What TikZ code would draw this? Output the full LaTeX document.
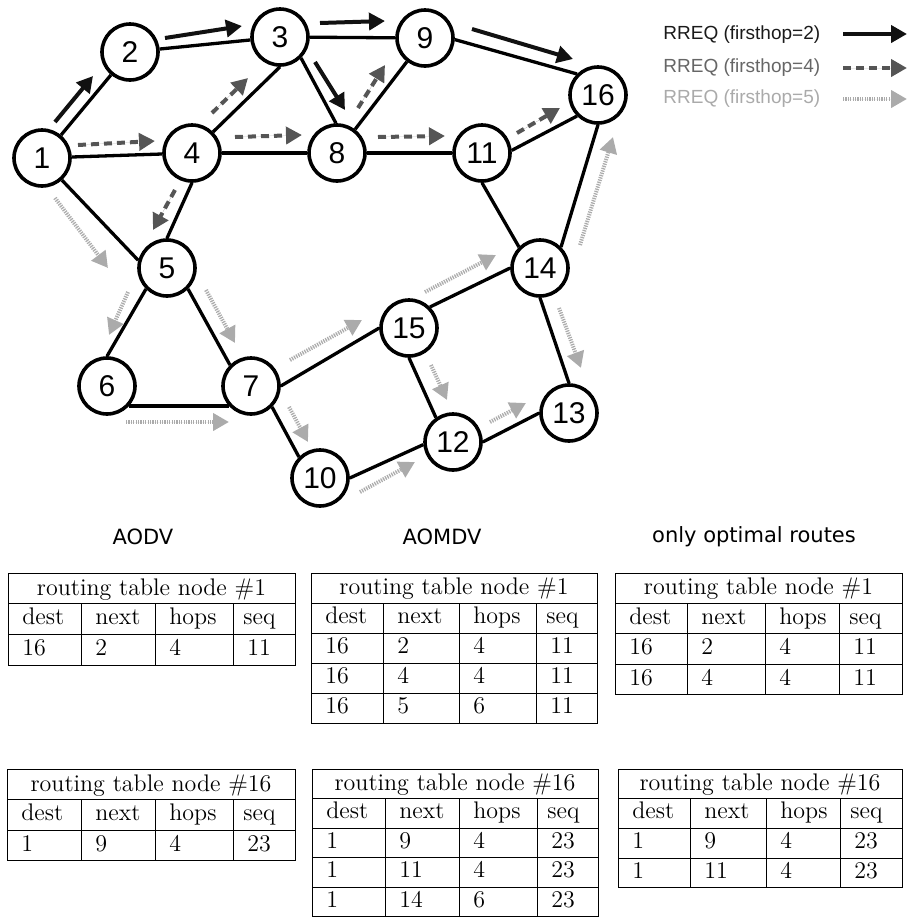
\documentclass[tikz,border=0pt]{standalone}
\usepackage{fontspec}
\usetikzlibrary{arrows.meta}
\newfontfamily\lsans{Liberation Sans}
\newfontfamily\dvsans{DejaVu Sans}
\definecolor{hopA}{HTML}{111111}
\definecolor{hopB}{HTML}{555555}
\definecolor{hopC}{HTML}{ABABAB}
\definecolor{txtA}{HTML}{1A1A1A}
\definecolor{txtB}{HTML}{666666}
\definecolor{txtC}{HTML}{AAAAAA}
\tikzset{
  vertex/.style={circle,draw=black,line width=1.8pt,fill=white,minimum size=28pt,inner sep=0pt,
    font=\lsans\fontsize{15}{15}\selectfont},
  link/.style={line width=1.65pt,draw=black},
  tipA/.style={-{Triangle[length=8pt,width=8.5pt]}},
  rA/.style={line width=2pt,draw=hopA,fill=hopA,tipA},
  rB/.style={line width=2pt,draw=hopB,fill=hopB,dash pattern=on 4pt off 2.5pt,tipA},
  rC/.style={line width=2pt,draw=hopC,fill=hopC,dash pattern=on 0.6pt off 0.6pt,tipA},
  legtext/.style={anchor=west,inner sep=0pt,font=\lsans\fontsize{9.5}{11}\selectfont},
  heading/.style={inner sep=0pt,font=\dvsans\fontsize{10.5}{12}\selectfont},
  tabline/.style={line width=0.5pt,draw=black},
  cell/.style={anchor=base west,inner sep=0pt,font=\fontsize{12}{14}\selectfont},
  celltitle/.style={anchor=base,inner sep=0pt,font=\fontsize{12}{14}\selectfont},
}
\newcommand\settab[8]{\def\tL{#1}\def\tA{#2}\def\tB{#3}\def\tC{#4}\def\tR{#5}\def\tT{#6}\def\tH{#7}\def\tid{#8}}
\newcommand\tabtitle[2]{%
  \draw[tabline] (\tL,\tT) rectangle (\tR,{\tT+(#1+1)*\tH});
  \node[celltitle] (\tid-t) at ({(\tL+\tR)/2},{\tT+\tH-8.5}) {#2};
}
\newcommand\tabrow[5]{%
  \ifnum#1=1 \def\tsq{10}\else\def\tsq{14}\fi
  \draw[tabline] (\tL,{\tT+#1*\tH}) -- (\tR,{\tT+#1*\tH})
    (\tA,{\tT+#1*\tH}) -- (\tA,{\tT+(#1+1)*\tH})
    (\tB,{\tT+#1*\tH}) -- (\tB,{\tT+(#1+1)*\tH})
    (\tC,{\tT+#1*\tH}) -- (\tC,{\tT+(#1+1)*\tH});
  \node[cell] (\tid-r#1a) at ({\tL+14},{\tT+(#1+1)*\tH-9.5}) {#2};
  \node[cell] (\tid-r#1b) at ({\tA+14},{\tT+(#1+1)*\tH-9.5}) {#3};
  \node[cell] (\tid-r#1c) at ({\tB+14},{\tT+(#1+1)*\tH-9.5}) {#4};
  \node[cell] (\tid-r#1d) at ({\tC+\tsq},{\tT+(#1+1)*\tH-9.5}) {#5};
}
\begin{document}
\begin{tikzpicture}[x=0.5pt,y=-0.5pt]
\useasboundingbox (0,0) rectangle (909,917);

% ---- network nodes
\node[vertex] (n1)  at (42,158)  {1};
\node[vertex] (n2)  at (130,52)  {2};
\node[vertex] (n3)  at (280,37)  {3};
\node[vertex] (n9)  at (425,38)  {9};
\node[vertex] (n4)  at (192,153) {4};
\node[vertex] (n8)  at (337,153) {8};
\node[vertex] (n11) at (482,153) {11};
\node[vertex] (n16) at (598,95)  {16};
\node[vertex] (n5)  at (167,268) {5};
\node[vertex] (n14) at (540,268) {14};
\node[vertex] (n15) at (409,328) {15};
\node[vertex] (n6)  at (107,386) {6};
\node[vertex] (n7)  at (251,386) {7};
\node[vertex] (n13) at (569,413) {13};
\node[vertex] (n12) at (453,442) {12};
\node[vertex] (n10) at (320,478) {10};

% ---- links
\draw[link] (n1) -- (n2);
\draw[link] (n2) -- (n3);
\draw[link] (n3) -- (n9);
\draw[link] (n1) -- (n4);
\draw[link] (n4) -- (n8);
\draw[link] (n8) -- (n11);
\draw[link] (n4.45) -- (n3.-90);
\draw[link] (n3.-45) -- (n8.92);
\draw[link] (n8) -- (n9);
\draw[link] (n1.-48) -- (n5.165);
\draw[link] (n4.-90) -- (n5.90);
\draw[link] (n9.-3) -- (n16.135);
\draw[link] (n11.5) -- (n16.-135);
\draw[link] (n11.-90) -- (n14.135);
\draw[link] (n14.45) -- (n16.-90);
\draw[link] (n15.45) -- (n14.180);
\draw[link] (n5.-135) -- (n6.90);
\draw[link] (n5.-45) -- (n7.135);
\draw[link] (n6.-42) -- (n7.-138);
\draw[link] (n7.0) -- (n15.180);
\draw[link] (n7.-45) -- (n10.135);
\draw[link] (n10.0) -- (n12.185);
\draw[link] (n15.-90) -- (n12.125);
\draw[link] (n12.0) -- (n13.180);
\draw[link] (n14.-90) -- (n13.90);

% ---- RREQ firsthop=2
\draw[rA] (55,122) -- (93,76);
\draw[rA] (165,38) -- (242,26);
\draw[rA] (320,23) -- (385,21);
\draw[rA] (315,62) -- (345,110);
\draw[rA] (472,29) -- (573,59);
% ---- RREQ firsthop=4
\draw[rB] (78,145) -- (155,141);
\draw[rB] (212,113) -- (248,78);
\draw[rB] (235,137) -- (302,135);
\draw[rB] (358,108) -- (385,65);
\draw[rB] (378,137) -- (445,136);
\draw[rB] (175,190) -- (153,230);
\draw[rB] (517,133) -- (560,108);
% ---- RREQ firsthop=5
\draw[rC] (55,198) -- (108,268);
\draw[rC] (128,292) -- (109,335);
\draw[rC] (206,290) -- (235,343);
\draw[rC] (126,422) -- (229,422);
\draw[rC] (290,360) -- (362,320);
\draw[rC] (289,407) -- (308,442);
\draw[rC] (360,492) -- (415,462);
\draw[rC] (431,365) -- (447,400);
\draw[rC] (425,292) -- (496,255);
\draw[rC] (490,422) -- (526,403);
\draw[rC] (559,308) -- (581,368);
\draw[rC] (580,245) -- (613,137);

% ---- legend
\node[legtext,text=txtA] (lg1) at (663,35) {RREQ (firsthop=2)};
\node[legtext,text=txtB] (lg2) at (663,68) {RREQ (firsthop=4)};
\node[legtext,text=txtC] (lg3) at (663,99) {RREQ (firsthop=5)};
\coordinate (la1s) at (843,34); \coordinate (la1e) at (907,34);
\coordinate (la2s) at (843,68); \coordinate (la2e) at (907,68);
\coordinate (la3s) at (843,99); \coordinate (la3e) at (907,99);
\draw[rA] (la1s) -- (la1e);
\draw[rB] (la2s) -- (la2e);
\draw[rC] (la3s) -- (la3e);

% ---- headings
\node[heading] (hA) at (143,537) {AODV};
\node[heading] (hB) at (442,537) {AOMDV};
\node[heading] (hC) at (754,537) {only optimal routes};

% ---- tables node #1
\settab{8}{81}{155}{233}{295}{573}{30.7}{ta}
\tabtitle{2}{routing table node \#1}
\tabrow{1}{dest}{next}{hops}{seq}
\tabrow{2}{16}{2}{4}{11}

\settab{311}{383}{459}{536}{597}{573}{30}{tb}
\tabtitle{4}{routing table node \#1}
\tabrow{1}{dest}{next}{hops}{seq}
\tabrow{2}{16}{2}{4}{11}
\tabrow{3}{16}{4}{4}{11}
\tabrow{4}{16}{5}{6}{11}

\settab{615}{687}{765}{839}{902}{573}{30.4}{tc}
\tabtitle{3}{routing table node \#1}
\tabrow{1}{dest}{next}{hops}{seq}
\tabrow{2}{16}{2}{4}{11}
\tabrow{3}{16}{4}{4}{11}

% ---- tables node #16
\settab{7}{81}{155}{233}{295}{769}{30.5}{td}
\tabtitle{2}{routing table node \#16}
\tabrow{1}{dest}{next}{hops}{seq}
\tabrow{2}{1}{9}{4}{23}

\settab{312}{385}{459}{537}{598}{769}{29.5}{te}
\tabtitle{4}{routing table node \#16}
\tabrow{1}{dest}{next}{hops}{seq}
\tabrow{2}{1}{9}{4}{23}
\tabrow{3}{1}{11}{4}{23}
\tabrow{4}{1}{14}{6}{23}

\settab{618}{690}{766}{840}{902}{769}{29.7}{tf}
\tabtitle{3}{routing table node \#16}
\tabrow{1}{dest}{next}{hops}{seq}
\tabrow{2}{1}{9}{4}{23}
\tabrow{3}{1}{11}{4}{23}
\end{tikzpicture}
\end{document}
